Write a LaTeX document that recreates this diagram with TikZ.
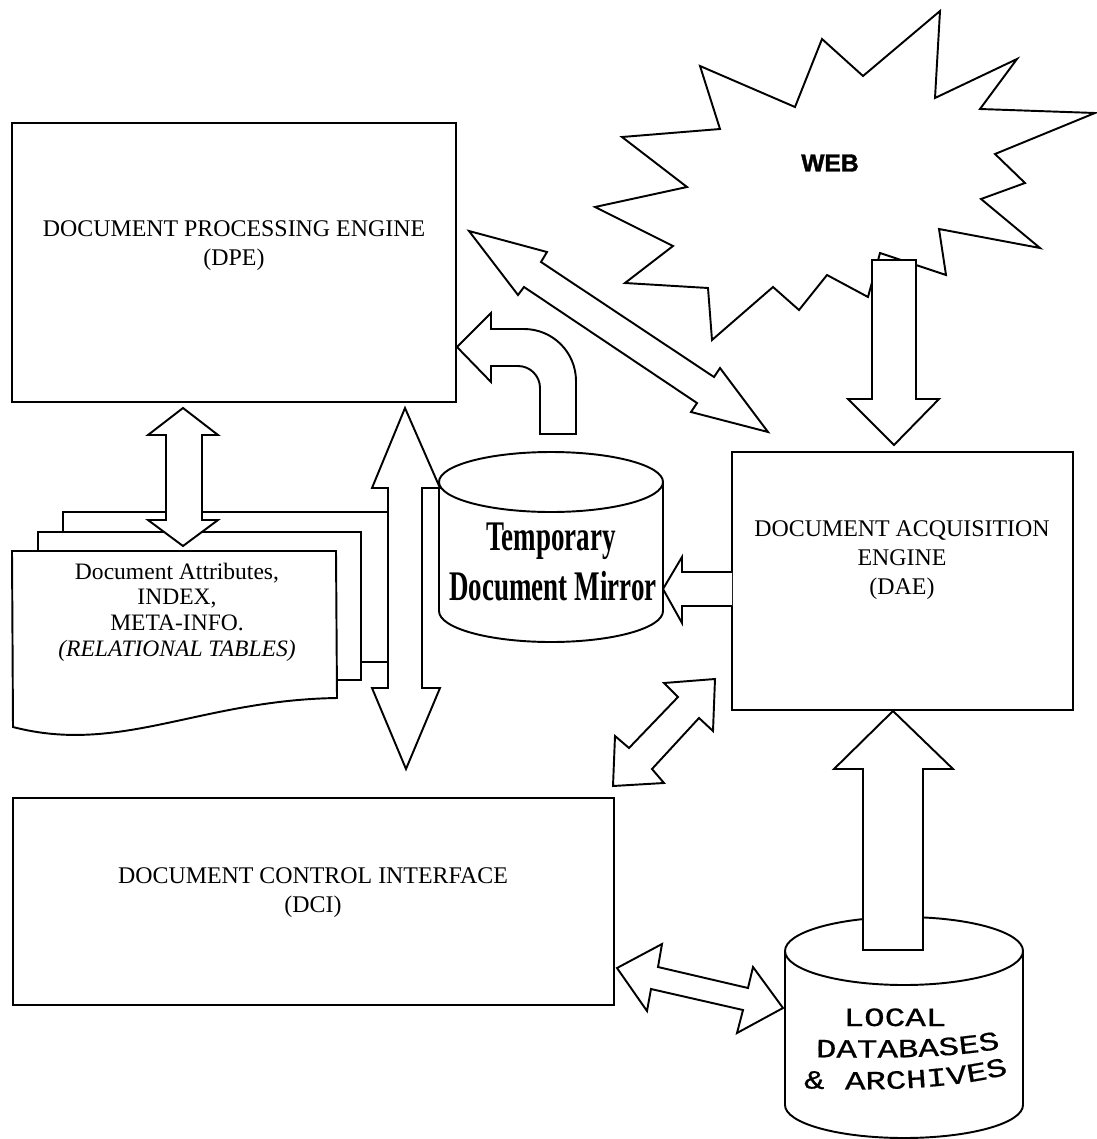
\documentclass[tikz,border=0pt]{standalone}
\usepackage{fontspec}
\setmainfont{Liberation Serif}
\newfontfamily\websans[FakeBold=1.5]{Liberation Sans}
\newfontfamily\dbmono[FakeStretch=1.3,FakeBold=0.6]{Liberation Mono}
\newfontfamily\wordart[FakeStretch=0.64]{Liberation Serif}
\usetikzlibrary{decorations.text}

\begin{document}
\begin{tikzpicture}[
	x=0.02cm, y=-0.02cm,
	line width=1.1pt,
	box/.style={rectangle,draw=black,fill=white,line width=1.1pt,inner sep=0pt},
	lbl/.style={align=center,font=\fontsize{13.6}{16.5}\selectfont},
	tbl/.style={align=center,font=\fontsize{13.4}{14.6}\selectfont},
	blockarrow/.style={draw=black,fill=white},
	cyl/.style={draw=black,fill=white},
	page/.style={draw=black,fill=white},
	dbfont/.style={font=\dbmono\fontsize{15}{15}\selectfont,inner sep=1pt},
	]
	
	\useasboundingbox (0,0) rectangle (1096,1139);
	
	% the web
	\draw[blockarrow] (700,66) -- (795,107) -- (822,39) -- (863,76) -- (940,11)
	-- (935,98) -- (1017,59) -- (980,109) -- (1095,113) -- (995,154)
	-- (1025,183) -- (981,199) -- (1040,248) -- (939,229) -- (946,275)
	-- (880,253) -- (868,297) -- (827,275) -- (799,310) -- (773,287)
	-- (712,340) -- (708,288) -- (625,283) -- (673,246) -- (595,207)
	-- (687,187) -- (622,137) -- (720,129) -- cycle;
	\node[font=\websans\bfseries\fontsize{14}{14}\selectfont] (web) at (830,163) {WEB};
	
	% boxes
	\node[box, minimum width=8.88cm, minimum height=5.58cm] (dpe) at (234,262.5) {};
	\node[box, minimum width=6.82cm, minimum height=5.16cm] (dae) at (902.5,581) {};
	\node[box, minimum width=12.02cm, minimum height=4.14cm] (dci) at (313.5,901.5) {};
	\node[lbl] (dpetext) at (234,246) {DOCUMENT PROCESSING ENGINE\\(DPE)};
	\node[lbl] (daetext) at (902,560) {DOCUMENT ACQUISITION\\ENGINE\\(DAE)};
	\node[lbl] (dcitext) at (313,893) {DOCUMENT CONTROL INTERFACE\\(DCI)};
	
	% relational tables
	\draw[page] (63,512) rectangle (388,662);
	\draw[page] (38,532) rectangle (361,680);
	\draw[page] (12,551) -- (336,551) -- (337,698)
	.. controls (200,700) and (120,755) .. (13,727) -- cycle;
	\node[tbl] (tables) at (177,612) {Document Attributes,\\INDEX,\\META-INFO.\\\textit{(RELATIONAL TABLES)}};
	
	% temporary mirror
	\draw[cyl] (439,482) -- (439,611) arc (180:0:112 and 31) -- (663,482);
	\draw[cyl] (551,482) ellipse (112 and 30);
	\node[anchor=base, font=\wordart\bfseries\fontsize{24}{24}\selectfont] (mirror1) at (551,550) {Temporary};
	\node[anchor=base, font=\wordart\bfseries\fontsize{24}{24}\selectfont] (mirror2) at (553,600) {Document Mirror};
	
	% local databases
	\draw[cyl] (785,951) -- (785,1105) arc (180:0:119 and 33) -- (1023,951);
	\draw[cyl] (904,951) ellipse (119 and 34);
	\node[anchor=base, dbfont] (local) at (895,1026) {LOCAL};
	\path[decorate, decoration={text along path, text align=center,
		text={|\dbmono\fontsize{15}{15}\selectfont|DATABASES}}]
	(810,1057) .. controls (900,1059) and (965,1057) .. (1006,1047);
	\path[decorate, decoration={text along path, text align=center,
		text={|\dbmono\fontsize{15}{15}\selectfont|{\&} ARCHIVES}}]
	(800,1088) .. controls (880,1092) and (962,1088) .. (1012,1073);
	
	% arrows
	\draw[blockarrow] (872,260) -- (872,399) -- (848,399) -- (894,445)
	-- (939,399) -- (916,399) -- (916,260) -- cycle;
	\draw[blockarrow] (863,950) -- (863,769) -- (834,769) -- (893,711)
	-- (953,769) -- (923,769) -- (923,950) -- cycle;
	\draw[blockarrow] (469,231) -- (547,252) -- (541,262) -- (714,377) -- (720,368)
	-- (768,432) -- (691,412) -- (697,403) -- (524,287) -- (518,295) -- cycle;
	\draw[blockarrow] (457,347) -- (491,313) -- (491,329) -- (524,329) arc (-90:0:52)
	-- (576,434) -- (540,434) -- (540,388) arc (0:-90:22) -- (491,366) -- (491,382) -- cycle;
	\draw[blockarrow] (405,408) -- (440,488) -- (422,488) -- (422,688) -- (440,688)
	-- (406,769) -- (372,688) -- (388,688) -- (388,488) -- (372,488) -- cycle;
	\draw[blockarrow] (183,408) -- (218,435) -- (202,435) -- (202,520) -- (218,520)
	-- (183,546) -- (148,520) -- (166,520) -- (166,435) -- (148,435) -- cycle;
	\draw[blockarrow] (732,572) -- (682,572) -- (682,557) -- (663,589)
	-- (682,623) -- (682,606) -- (732,606);
	\draw[blockarrow] (715,679) -- (713,731) -- (699,718) -- (652,769) -- (664,783)
	-- (613,786) -- (615,736) -- (629,748) -- (678,697) -- (664,683) -- cycle;
	\draw[blockarrow] (617,968) -- (662,944) -- (658,967) -- (748,988) -- (753,967)
	-- (783,1008) -- (737,1033) -- (743,1010) -- (651,989) -- (647,1011) -- cycle;

\end{tikzpicture}
\end{document}
